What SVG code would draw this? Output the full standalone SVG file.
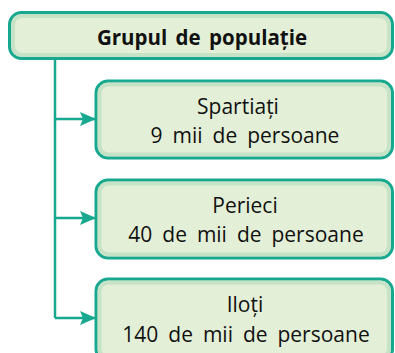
<svg xmlns="http://www.w3.org/2000/svg" width="395" height="353" viewBox="0 0 395 353">
<style>
.box{fill:#e3f0d7;stroke:#17a88f;stroke-width:3}
.edge{fill:none;stroke:#b9dcc0;stroke-width:4;opacity:0.7}
.t{font-family:"Open Sans","Noto Sans",sans-serif;font-size:21px;fill:#111;text-anchor:middle;word-spacing:4.5px}
.h{font-weight:bold;font-size:20.5px;word-spacing:3px}
.c{fill:none;stroke:#17a88f;stroke-width:2.5}
</style>
<defs>
<marker id="ah" markerWidth="16" markerHeight="14" refX="15" refY="7" orient="auto" markerUnits="userSpaceOnUse">
<path d="M0,0 L16,7 L0,14 L3,7 Z" fill="#17a88f"/>
</marker>
</defs>
<g id="connectors">
<path class="c" d="M55,58 V318"/>
<path class="c" d="M55,119 H95" marker-end="url(#ah)"/>
<path class="c" d="M55,218 H95" marker-end="url(#ah)"/>
<path class="c" d="M55,318 H95" marker-end="url(#ah)"/>
</g>
<g id="header">
<rect class="box" x="9.5" y="12.5" width="383" height="46" rx="12"/>
<rect class="edge" x="13" y="16" width="376" height="39" rx="9"/>
<text class="t h" x="202" y="45">Grupul de populație</text>
</g>
<g id="spartiati">
<rect class="box" x="96" y="81" width="296.5" height="77" rx="12"/>
<rect class="edge" x="99.5" y="84.5" width="289.5" height="70" rx="9"/>
<text class="t" x="238" y="114">Spartiați</text>
<text class="t" x="245" y="143">9 mii de persoane</text>
</g>
<g id="perieci">
<rect class="box" x="96" y="180" width="296.5" height="78" rx="12"/>
<rect class="edge" x="99.5" y="183.5" width="289.5" height="71" rx="9"/>
<text class="t" x="245" y="213">Perieci</text>
<text class="t" x="246" y="242">40 de mii de persoane</text>
</g>
<g id="iloti">
<rect class="box" x="96" y="279" width="296.5" height="82" rx="12"/>
<rect class="edge" x="99.5" y="282.5" width="289.5" height="75" rx="9"/>
<text class="t" x="245" y="312">Iloți</text>
<text class="t" x="246" y="342">140 de mii de persoane</text>
</g>
</svg>
